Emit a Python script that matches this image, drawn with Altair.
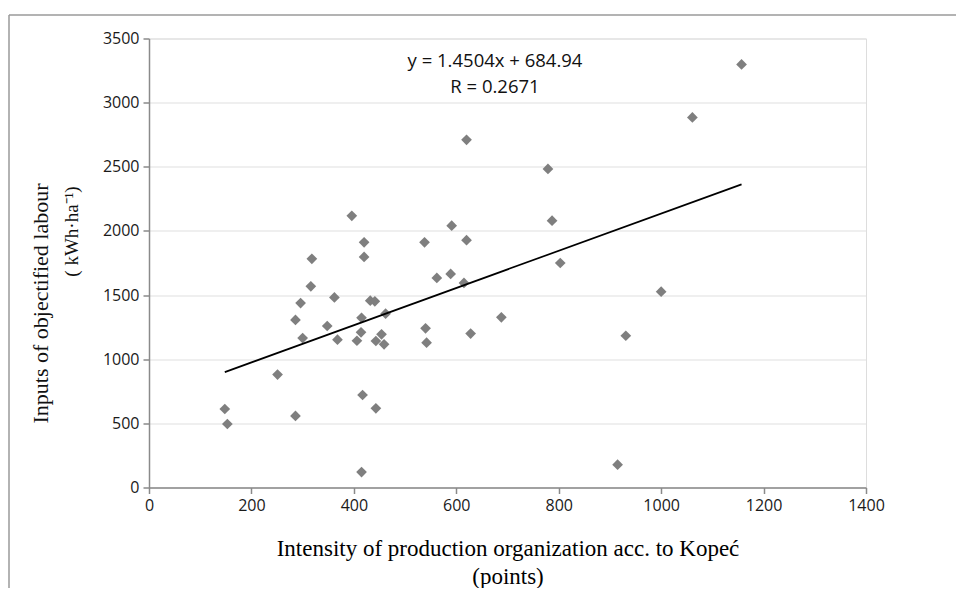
import altair as alt
import pandas as pd

# Data
x_vals = [148, 153, 251, 286, 286, 296, 300, 316, 318, 348, 362, 368, 396, 406, 414,
          415, 417, 415, 420, 420, 432, 441, 443, 443, 454, 459, 462, 538, 540, 542,
          562, 589, 591, 615, 620, 628, 620, 688, 779, 787, 803, 915, 931, 1000, 1061, 1157]
y_vals = [612, 495, 880, 558, 1306, 1438, 1165, 1568, 1783, 1259, 1482, 1152, 2118, 1144, 1210,
          1323, 721, 120, 1911, 1797, 1456, 1451, 1142, 617, 1194, 1116, 1355, 1911, 1241, 1129,
          1634, 1665, 2041, 1595, 1928, 1200, 2710, 1327, 2483, 2080, 1750, 178, 1183, 1526, 2885, 3298]

slope = 1.4504
intercept = 684.94
eq_line_1 = "y = 1.4504x + 684.94"
eq_line_2 = "R = 0.2671"
x_ticks = [0, 200, 400, 600, 800, 1000, 1200, 1400]
y_ticks = [0, 500, 1000, 1500, 2000, 2500, 3000, 3500]
x_title = ["Intensity of production organization acc. to Kopeć", "(points)"]
y_title_1 = "Inputs of objectified labour"
y_title_2 = "( kWh·ha⁻¹)"

df = pd.DataFrame({"x": x_vals, "y": y_vals})
xmin, xmax = min(x_vals), max(x_vals)
trend = pd.DataFrame({"x": [xmin, xmax], "y": [slope * xmin + intercept, slope * xmax + intercept]})

W, H = 717, 449

xscale = alt.Scale(domain=[0, 1400], nice=False, zero=False)
yscale = alt.Scale(domain=[0, 3500], nice=False, zero=False)

points = alt.Chart(df).mark_point(shape="diamond", filled=True, size=115, color="#7f7f7f", opacity=1).encode(
    x=alt.X("x:Q", scale=xscale,
            axis=alt.Axis(values=x_ticks, grid=False, title=x_title, titlePadding=24, format="d",
                          titleFont="Liberation Serif", titleFontSize=23, titleFontWeight="normal",
                          titleColor="#000000", titleLineHeight=28,
                          labelFont="Open Sans", labelFontSize=16, labelColor="#1a1a1a",
                          labelPadding=4, tickSize=6, domainColor="#8a8a8a", tickColor="#8a8a8a",
                          domainWidth=1.5, tickWidth=1.5, labelFlush=False)),
    y=alt.Y("y:Q", scale=yscale,
            axis=alt.Axis(values=y_ticks, grid=True, gridColor="#e0e0e0", gridWidth=1.2, title=None,
                          format="d",
                          labelFont="Open Sans", labelFontSize=16, labelColor="#1a1a1a",
                          labelPadding=4, tickSize=6, domainColor="#8a8a8a", tickColor="#8a8a8a",
                          domainWidth=1.5, tickWidth=1.5)),
)

line = alt.Chart(trend).mark_line(color="#000000", strokeWidth=1.7).encode(
    x=alt.X("x:Q", scale=xscale),
    y=alt.Y("y:Q", scale=yscale),
)

def label(text, x, y, font, size, angle=0):
    kw = dict(font=font, fontSize=size, color="#111111", align="center", baseline="middle")
    if angle:
        kw["angle"] = angle
    return alt.Chart(pd.DataFrame({"t": [text]})).mark_text(**kw).encode(
        x=alt.value(x), y=alt.value(y), text="t:N")

eq1 = label(eq_line_1, 346, 22.5, "Open Sans", 18.5)
eq2 = label(eq_line_2, 346, 48.5, "Open Sans", 18.5)
yt1 = label(y_title_1, -108, 265, "Liberation Serif", 22, 270)
yt2 = label(y_title_2, -77, 193, "Liberation Serif", 19, 270)

frame_left = alt.Chart(pd.DataFrame({"a": [0]})).mark_rule(color="#9a9a9a", strokeWidth=1.5).encode(
    x=alt.value(-140), y=alt.value(-23.5), y2=alt.value(570))
frame_top = alt.Chart(pd.DataFrame({"a": [0]})).mark_rule(color="#9a9a9a", strokeWidth=1.5).encode(
    x=alt.value(-140), x2=alt.value(815), y=alt.value(-23.5))

chart = alt.layer(points, line, eq1, eq2, yt1, yt2, frame_left, frame_top).properties(
    width=W, height=H,
    autosize=alt.AutoSizeParams(type="none"),
    padding={"left": 141, "top": 30.5, "right": 90, "bottom": 100},
).configure_view(stroke=None).configure(background="#ffffff")

chart.save("out.html", embed_options={"renderer": "svg", "actions": False})
